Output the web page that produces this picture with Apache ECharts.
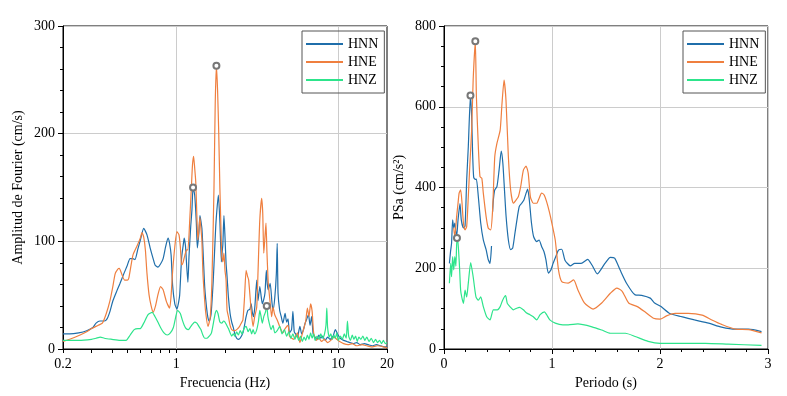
<!DOCTYPE html>
<html>
<head>
<meta charset="utf-8">
<script src="https://cdn.jsdelivr.net/npm/echarts@6/dist/echarts.min.js"></script>
<style>
html, body { margin: 0; padding: 0; background: #fff; }
#chart { width: 787px; height: 396px; }
</style>
</head>
<body>
<div id="chart"></div>
<script>
// Espectro de Fourier (izquierda)
const hnnFreq = [0.2, 0.22, 0.25, 0.28, 0.306, 0.32, 0.338, 0.36, 0.374, 0.39, 0.407, 0.43, 0.45, 0.475, 0.497, 0.519, 0.54, 0.556, 0.58, 0.6, 0.63, 0.66, 0.69, 0.72, 0.74, 0.77, 0.8, 0.83, 0.86, 0.89, 0.91, 0.93, 0.95, 0.98, 1.01, 1.03, 1.05, 1.08, 1.11, 1.12, 1.14, 1.15, 1.18, 1.2, 1.23, 1.25, 1.27, 1.3, 1.33, 1.35, 1.38, 1.4, 1.44, 1.47, 1.5, 1.54, 1.57, 1.6, 1.64, 1.69, 1.73, 1.76, 1.82, 1.86, 1.9, 1.92, 1.94, 1.97, 2.0, 2.03, 2.06, 2.1, 2.15, 2.2, 2.25, 2.3, 2.36, 2.42, 2.48, 2.58, 2.64, 2.7, 2.77, 2.85, 2.9, 2.95, 3.0, 3.06, 3.14, 3.2, 3.28, 3.35, 3.4, 3.47, 3.53, 3.6, 3.65, 3.7, 3.8, 3.9, 3.96, 4.06, 4.15, 4.2, 4.25, 4.35, 4.45, 4.55, 4.7, 4.8, 4.9, 5.0, 5.15, 5.25, 5.35, 5.45, 5.6, 5.7, 5.8, 5.95, 6.1, 6.25, 6.4, 6.55, 6.7, 6.85, 7.0, 7.2, 7.4, 7.6, 7.8, 8.0, 8.3, 8.6, 8.9, 9.3, 9.6, 9.9, 10.3, 10.8, 11.3, 11.8, 12.4, 13, 13.7, 14.5, 15.3, 16.2, 17.2, 18.2, 19.2, 20];
const hnnAmp = [14, 14, 15, 17, 20, 24, 26, 26, 28, 35, 45, 54, 61, 70, 77, 84, 84, 83, 93, 101, 112, 106, 94, 84, 78, 76, 79, 84, 95, 103, 98, 87, 59, 42, 37, 42, 50, 85, 99, 103, 96, 87, 62, 87, 115, 129, 150, 143, 118, 94, 108, 124, 112, 85, 57, 38, 29, 26, 32, 62, 95, 118, 143, 118, 81, 90, 97, 124, 104, 80, 67, 48, 33, 25, 20, 14, 10, 9, 10, 15, 22, 30, 36, 37, 42, 34, 30, 40, 64, 45, 58, 48, 42, 46, 52, 73, 60, 55, 61, 43, 36, 48, 70, 98, 52, 36, 30, 24, 33, 25, 28, 15, 18, 35, 16, 14, 11, 16, 21, 14, 18, 24, 28, 32, 22, 30, 14, 11, 9, 13, 10, 12, 8, 11, 9, 12, 18, 14, 10, 8, 7, 6, 5, 6, 4, 5, 4, 3, 4, 3, 2, 2];

const hneFreq = [0.2, 0.22, 0.255, 0.28, 0.3, 0.33, 0.35, 0.37, 0.39, 0.405, 0.42, 0.435, 0.445, 0.46, 0.48, 0.5, 0.51, 0.54, 0.57, 0.6, 0.615, 0.63, 0.645, 0.66, 0.68, 0.7, 0.72, 0.745, 0.77, 0.8, 0.83, 0.87, 0.91, 0.93, 0.95, 0.98, 1.01, 1.04, 1.06, 1.08, 1.1, 1.13, 1.16, 1.18, 1.21, 1.24, 1.26, 1.28, 1.3, 1.32, 1.34, 1.36, 1.38, 1.4, 1.42, 1.44, 1.46, 1.49, 1.52, 1.57, 1.62, 1.66, 1.71, 1.74, 1.77, 1.8, 1.83, 1.86, 1.89, 1.91, 1.94, 1.97, 2.0, 2.03, 2.06, 2.1, 2.15, 2.2, 2.3, 2.4, 2.46, 2.52, 2.58, 2.64, 2.7, 2.75, 2.8, 2.9, 2.98, 3.05, 3.14, 3.2, 3.28, 3.37, 3.42, 3.47, 3.53, 3.58, 3.63, 3.7, 3.8, 3.88, 3.96, 4.05, 4.2, 4.35, 4.55, 4.7, 4.9, 5.0, 5.3, 5.45, 5.6, 5.8, 5.95, 6.1, 6.3, 6.45, 6.6, 6.75, 6.9, 7.05, 7.3, 7.6, 7.9, 8.2, 8.6, 9.0, 9.4, 9.8, 10.2, 10.8, 11.5, 12.2, 13, 14, 15, 16, 17.5, 19, 20];
const hneAmp = [7, 9, 13, 16, 19, 22, 24, 33, 45, 57, 70, 74, 75, 70, 64, 64, 66, 87, 95, 103, 108, 104, 92, 70, 50, 40, 34, 40, 50, 58, 55, 44, 38, 50, 72, 95, 109, 106, 95, 78, 80, 87, 92, 92, 118, 150, 171, 179, 168, 155, 125, 101, 110, 122, 112, 101, 72, 50, 34, 21, 29, 62, 149, 227, 263, 240, 200, 149, 110, 87, 81, 89, 73, 64, 36, 30, 22, 18, 17, 19, 21, 24, 27, 48, 73, 68, 64, 36, 21, 30, 39, 73, 120, 140, 126, 89, 104, 117, 90, 61, 43, 30, 39, 32, 27, 21, 15, 19, 22, 12, 9, 12, 15, 6, 12, 18, 26, 38, 30, 42, 35, 15, 8, 10, 7, 9, 6, 8, 11, 9, 7, 5, 4, 5, 3, 4, 3, 2, 3, 2, 1];

const hnzFreq = [0.2, 0.25, 0.3, 0.32, 0.34, 0.36, 0.4, 0.45, 0.49, 0.52, 0.55, 0.58, 0.6, 0.63, 0.67, 0.71, 0.74, 0.77, 0.8, 0.84, 0.88, 0.92, 0.96, 0.99, 1.02, 1.06, 1.09, 1.12, 1.15, 1.19, 1.22, 1.26, 1.3, 1.34, 1.38, 1.42, 1.46, 1.5, 1.55, 1.6, 1.65, 1.7, 1.74, 1.77, 1.81, 1.86, 1.91, 1.96, 2.0, 2.05, 2.1, 2.15, 2.2, 2.25, 2.3, 2.36, 2.42, 2.48, 2.55, 2.62, 2.7, 2.78, 2.85, 2.92, 2.98, 3.05, 3.14, 3.22, 3.28, 3.34, 3.4, 3.47, 3.55, 3.62, 3.68, 3.75, 3.85, 3.96, 4.06, 4.2, 4.35, 4.5, 4.65, 4.8, 4.95, 5.1, 5.25, 5.4, 5.55, 5.7, 5.85, 6.0, 6.15, 6.3, 6.45, 6.6, 6.75, 6.9, 7.05, 7.2, 7.4, 7.6, 7.8, 8.0, 8.2, 8.4, 8.5, 8.6, 8.8, 9.0, 9.2, 9.4, 9.6, 9.8, 10.0, 10.3, 10.6, 10.9, 11.2, 11.4, 11.6, 11.9, 12.2, 12.5, 12.8, 13.1, 13.4, 13.8, 14.2, 14.6, 15, 15.5, 16, 16.5, 17, 17.5, 18, 18.5, 19, 19.5, 20];
const hnzAmp = [8, 8, 9, 10, 11, 10, 9, 8, 8, 13, 18, 19, 19, 24, 32, 34, 30, 25, 20, 15, 13, 15, 20, 29, 36, 33, 27, 22, 19, 18, 20, 23, 25, 24, 21, 18, 13, 10, 10, 12, 15, 25, 33, 36, 33, 25, 24, 26, 25, 22, 19, 15, 12, 14, 12, 16, 13, 17, 14, 19, 21, 16, 19, 14, 18, 14, 18, 26, 36, 30, 24, 30, 34, 40, 30, 24, 18, 22, 15, 17, 21, 14, 18, 12, 16, 10, 14, 9, 13, 8, 12, 7, 11, 8, 13, 9, 15, 10, 14, 8, 12, 9, 14, 10, 13, 22, 38, 20, 11, 14, 9, 13, 10, 15, 8, 12, 9, 14, 10, 26, 12, 8, 13, 9, 12, 7, 11, 9, 12, 8, 11, 7, 10, 6, 9, 6, 8, 5, 8, 5, 6];

// Espectro de respuesta (derecha)
const hnnPer = [0.05, 0.06, 0.07, 0.08, 0.09, 0.1, 0.11, 0.117, 0.13, 0.148, 0.16, 0.18, 0.195, 0.21, 0.225, 0.245, 0.256, 0.265, 0.275, 0.29, 0.3, 0.318, 0.34, 0.364, 0.39, 0.41, 0.426, 0.44, 0.445, 0.45, 0.457, 0.47, 0.49, 0.51, 0.53, 0.545, 0.56, 0.575, 0.596, 0.617, 0.636, 0.657, 0.68, 0.697, 0.72, 0.74, 0.76, 0.775, 0.79, 0.81, 0.83, 0.858, 0.88, 0.904, 0.926, 0.944, 0.966, 0.99, 1.01, 1.04, 1.06, 1.09, 1.12, 1.17, 1.21, 1.27, 1.33, 1.37, 1.42, 1.49, 1.54, 1.58, 1.63, 1.69, 1.77, 1.83, 1.91, 1.95, 2.01, 2.09, 2.2, 2.32, 2.45, 2.57, 2.7, 2.82, 2.94];
const hnnPsa = [212, 240, 262, 320, 300, 312, 290, 278, 320, 360, 320, 300, 305, 418, 501, 628, 575, 484, 425, 420, 421, 377, 312, 270, 246, 221, 212, 255, null, 340, 369, 394, 402, 443, 490, 460, 394, 328, 270, 246, 250, 287, 328, 353, 361, 369, 386, 396, 369, 312, 278, 266, 270, 254, 241, 221, 188, 196, 212, 232, 245, 247, 220, 206, 212, 212, 222, 208, 186, 212, 227, 225, 196, 163, 134, 133, 126, 114, 105, 88, 80, 72, 64, 54, 49, 49, 43];

const hnePer = [0.09, 0.1, 0.117, 0.13, 0.14, 0.154, 0.167, 0.18, 0.195, 0.21, 0.225, 0.24, 0.256, 0.27, 0.29, 0.3, 0.318, 0.333, 0.35, 0.364, 0.39, 0.41, 0.432, 0.45, 0.47, 0.49, 0.52, 0.537, 0.556, 0.574, 0.596, 0.617, 0.642, 0.667, 0.688, 0.71, 0.735, 0.76, 0.78, 0.8, 0.827, 0.858, 0.88, 0.904, 0.926, 0.95, 0.975, 1.0, 1.03, 1.06, 1.09, 1.15, 1.2, 1.24, 1.3, 1.38, 1.46, 1.54, 1.6, 1.65, 1.71, 1.79, 1.86, 1.94, 2.0, 2.06, 2.14, 2.26, 2.39, 2.48, 2.57, 2.7, 2.82, 2.94];
const hnePsa = [300, 278, 328, 361, 386, 394, 361, 312, 295, 303, 377, 460, 542, 666, 762, 625, 501, 427, 423, 386, 328, 299, 295, 344, 476, 509, 542, 608, 666, 616, 476, 394, 361, 369, 377, 402, 443, 453, 435, 377, 361, 361, 373, 386, 382, 365, 340, 310, 270, 196, 167, 163, 171, 146, 114, 99, 114, 138, 151, 143, 114, 105, 92, 76, 74, 82, 88, 88, 84, 72, 61, 49, 48, 40];

const hnzPer = [0.05, 0.062, 0.07, 0.08, 0.09, 0.1, 0.11, 0.12, 0.13, 0.142, 0.154, 0.164, 0.18, 0.195, 0.21, 0.225, 0.247, 0.27, 0.296, 0.318, 0.34, 0.364, 0.395, 0.426, 0.457, 0.494, 0.52, 0.543, 0.57, 0.586, 0.61, 0.642, 0.673, 0.7, 0.735, 0.765, 0.796, 0.827, 0.858, 0.89, 0.93, 0.95, 0.98, 1.03, 1.1, 1.15, 1.24, 1.37, 1.46, 1.54, 1.68, 1.77, 1.89, 2.0, 2.42, 2.63, 2.94];
const hnzPsa = [163, 212, 179, 229, 196, 229, 205, 275, 262, 212, 146, 129, 113, 146, 129, 163, 214, 179, 129, 121, 129, 105, 80, 72, 97, 97, 105, 121, 132, 113, 105, 97, 101, 103, 97, 89, 85, 80, 72, 85, 92, 85, 72, 64, 60, 60, 62, 55, 47, 39, 39, 31, 19, 14, 14, 12, 9];

const names = ['HNN', 'HNE', 'HNZ'];
const colors = ['#1f6eaa', '#ef7f3f', '#2de48b'];
// marcas del eje logaritmico y lineas de rejilla verticales
const logTicks = [0.2, 0.3, 0.4, 0.5, 0.6, 0.7, 0.8, 0.9, 1, 2, 3, 4, 5, 6, 7, 8, 9, 10, 20];
const logGrid = [1, 10];

const font = 'Liberation Serif';

function pairs(xs, ys) {
  return xs.map((x, i) => [x, ys[i] == null ? '-' : ys[i]]);
}

function lineSeries(name, color, data, axisIndex) {
  return {
    name: name,
    type: 'line',
    xAxisIndex: axisIndex,
    yAxisIndex: axisIndex,
    data: data,
    symbol: 'none',
    smooth: 0.2,
    lineStyle: { color: color, width: 1.2 },
    itemStyle: { color: color },
    markPoint: {
      symbol: 'emptyCircle',
      symbolSize: 6,
      label: { show: false },
      itemStyle: { color: '#777', borderWidth: 1 },
      data: [{ type: 'max', valueDim: 'y' }]
    }
  }
}

const axisBase = {
  axisLine: { show: true, lineStyle: { color: '#000' } },
  axisTick: { show: true, length: 5, lineStyle: { color: '#000' } },
  axisLabel: { color: '#000', fontFamily: font, fontSize: 14 },
  splitLine: { show: true, lineStyle: { color: '#cccccc' } },
  nameTextStyle: { color: '#000', fontFamily: font, fontSize: 14 },
  nameLocation: 'middle'
}

function legendAt(left) {
  return {
    data: names,
    orient: 'vertical',
    left: left,
    top: 31,
    padding: [6, 6, 6, 3],
    itemWidth: 37,
    itemHeight: 14,
    itemGap: 4,
    borderColor: '#555',
    borderWidth: 1,
    itemStyle: { opacity: 0 },
    textStyle: { color: '#000', fontFamily: font, fontSize: 14 }
  }
}

const series = [
  lineSeries(names[0], colors[0], pairs(hnnFreq, hnnAmp), 0),
  lineSeries(names[1], colors[1], pairs(hneFreq, hneAmp), 0),
  lineSeries(names[2], colors[2], pairs(hnzFreq, hnzAmp), 0),
  lineSeries(names[0], colors[0], pairs(hnnPer, hnnPsa), 1),
  lineSeries(names[1], colors[1], pairs(hnePer, hnePsa), 1),
  lineSeries(names[2], colors[2], pairs(hnzPer, hnzPsa), 1)
];
// rejilla vertical del eje log (1 y 10 Hz)
series[0].markLine = {
  silent: true,
  z: 1,
  symbol: 'none',
  label: { show: false },
  lineStyle: { color: '#cccccc', type: 'solid', width: 1 },
  data: logGrid.map(v => ({ xAxis: v }))
};

const chart = echarts.init(document.getElementById('chart'));
chart.setOption({
  animation: false,
  backgroundColor: '#fff',
  grid: [
    { left: 63, top: 26, width: 324, height: 323, show: true, borderColor: '#000', borderWidth: 1 },
    { left: 444, top: 26, width: 324, height: 323, show: true, borderColor: '#000', borderWidth: 1 }
  ],
  legend: [legendAt(302), legendAt(683)],
  xAxis: [
    Object.assign({}, axisBase, {
      gridIndex: 0,
      type: 'log',
      logBase: 10,
      min: 0.2,
      max: 20,
      name: 'Frecuencia (Hz)',
      nameGap: 26,
      splitLine: { show: false },
      axisTick: { show: true, length: 4, customValues: logTicks, lineStyle: { color: '#000' } }
    }),
    Object.assign({}, axisBase, {
      gridIndex: 1,
      type: 'value',
      min: 0,
      max: 3,
      interval: 1,
      name: 'Periodo (s)',
      nameGap: 26,
      minorTick: { show: true, splitNumber: 5, length: 3, lineStyle: { color: '#000' } }
    })
  ],
  yAxis: [
    Object.assign({}, axisBase, {
      gridIndex: 0,
      type: 'value',
      min: 0,
      max: 300,
      interval: 100,
      name: 'Amplitud de Fourier (cm/s)',
      nameGap: 38,
      minorTick: { show: true, splitNumber: 5, length: 3, lineStyle: { color: '#000' } }
    }),
    Object.assign({}, axisBase, {
      gridIndex: 1,
      type: 'value',
      min: 0,
      max: 800,
      interval: 200,
      name: 'PSa (cm/s²)',
      nameGap: 38,
      minorTick: { show: true, splitNumber: 4, length: 3, lineStyle: { color: '#000' } }
    })
  ],
  series: series
});
</script>
</body>
</html>
